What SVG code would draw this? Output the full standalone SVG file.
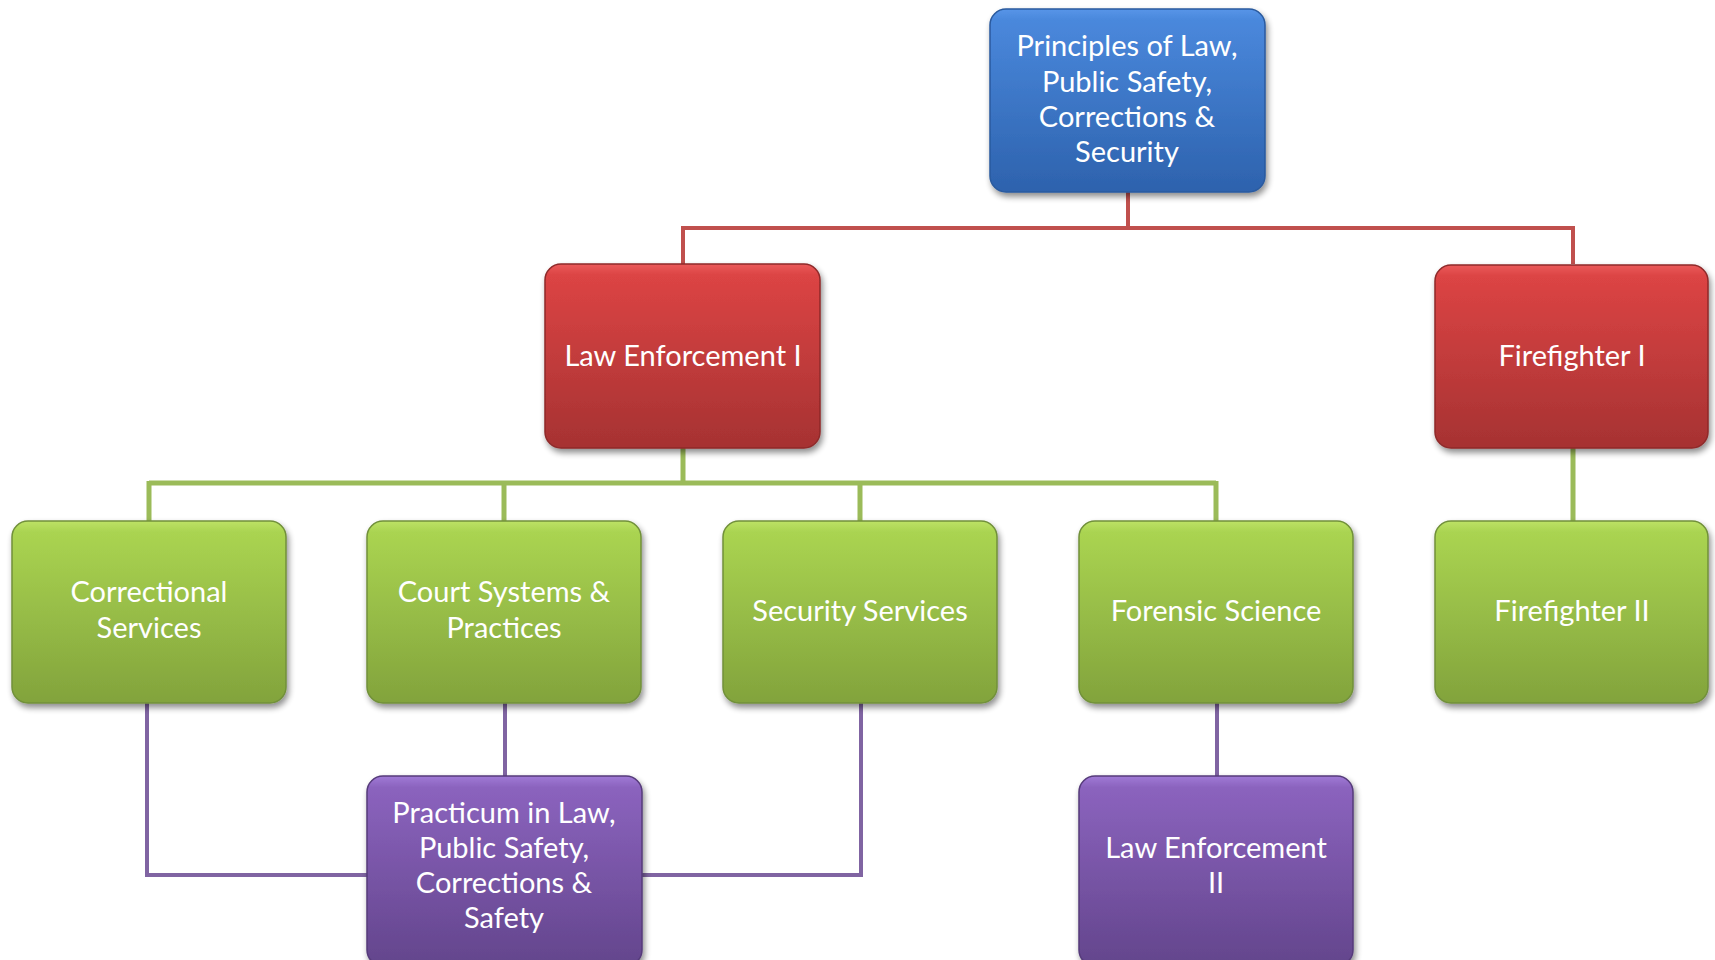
<svg xmlns="http://www.w3.org/2000/svg" width="1715" height="960" viewBox="0 0 1715 960">
<defs>
<linearGradient id="gBlue" x1="0" y1="0" x2="0" y2="1">
<stop offset="0" stop-color="#5795e8"/><stop offset="0.06" stop-color="#4a88dc"/><stop offset="1" stop-color="#2d62ad"/>
</linearGradient>
<linearGradient id="gRed" x1="0" y1="0" x2="0" y2="1">
<stop offset="0" stop-color="#ea5a5a"/><stop offset="0.06" stop-color="#dc4444"/><stop offset="1" stop-color="#a63232"/>
</linearGradient>
<linearGradient id="gGreen" x1="0" y1="0" x2="0" y2="1">
<stop offset="0" stop-color="#bde266"/><stop offset="0.06" stop-color="#aad451"/><stop offset="1" stop-color="#82a33c"/>
</linearGradient>
<linearGradient id="gPurple" x1="0" y1="0" x2="0" y2="1">
<stop offset="0" stop-color="#a07ad6"/><stop offset="0.06" stop-color="#8b63be"/><stop offset="1" stop-color="#63458c"/>
</linearGradient>
<filter id="sh" x="-10%" y="-10%" width="125%" height="125%">
<feGaussianBlur in="SourceAlpha" stdDeviation="3"/>
<feOffset dx="2" dy="4" result="b"/>
<feComponentTransfer><feFuncA type="linear" slope="0.45"/></feComponentTransfer>
<feMerge><feMergeNode/><feMergeNode in="SourceGraphic"/></feMerge>
</filter>
</defs>
<style>
.box{filter:url(#sh);stroke-width:1.5}
.blue{fill:url(#gBlue);stroke:#2a5a9e}
.red{fill:url(#gRed);stroke:#8e2a2a}
.green{fill:url(#gGreen);stroke:#71903a}
.purple{fill:url(#gPurple);stroke:#553b7a}
.t{font-family:Lato,"Open Sans",sans-serif;font-size:29px;fill:#ffffff;text-anchor:middle}
.cr{stroke:#c0504d;stroke-width:4;fill:none}
.cg{stroke:#9bbb59;stroke-width:5;fill:none}
.cp{stroke:#8064a2;stroke-width:4;fill:none}
</style>
<g id="connectors">
<path class="cr" d="M1128 192V228M683 228H1573M683 226V264M1573 226V264"/>
<path class="cg" d="M683 448V483M149 483H1216M149 481V521M504 481V521M860 481V521M1216 481V521M1573 448V521"/>
<path class="cp" d="M147 703V875H367M505 703V776M642 875H861V697M1217 703V776"/>
</g>
<g id="n-principles"><rect class="box blue" x="990" y="9" width="275" height="183" rx="16"/>
<text class="t" x="1127" y="56">Principles of Law,</text><text class="t" x="1127" y="92">Public Safety,</text><text class="t" x="1127" y="127">Corrections &amp;</text><text class="t" x="1127" y="162">Security</text></g>
<g id="n-le1"><rect class="box red" x="545" y="264" width="275" height="184" rx="16"/>
<text class="t" x="683" y="366">Law Enforcement I</text></g>
<g id="n-ff1"><rect class="box red" x="1435" y="265" width="273" height="183" rx="16"/>
<text class="t" x="1572" y="366">Firefighter I</text></g>
<g id="n-correctional"><rect class="box green" x="12" y="521" width="274" height="182" rx="16"/>
<text class="t" x="149" y="602">Correctional</text><text class="t" x="149" y="638">Services</text></g>
<g id="n-court"><rect class="box green" x="367" y="521" width="274" height="182" rx="16"/>
<text class="t" x="504" y="602">Court Systems &amp;</text><text class="t" x="504" y="638">Practices</text></g>
<g id="n-security"><rect class="box green" x="723" y="521" width="274" height="182" rx="16"/>
<text class="t" x="860" y="621">Security Services</text></g>
<g id="n-forensic"><rect class="box green" x="1079" y="521" width="274" height="182" rx="16"/>
<text class="t" x="1216" y="621">Forensic Science</text></g>
<g id="n-ff2"><rect class="box green" x="1435" y="521" width="273" height="182" rx="16"/>
<text class="t" x="1572" y="621">Firefighter II</text></g>
<g id="n-practicum"><rect class="box purple" x="367" y="776" width="275" height="190" rx="16"/>
<text class="t" x="504" y="823">Practicum in Law,</text><text class="t" x="504" y="858">Public Safety,</text><text class="t" x="504" y="893">Corrections &amp;</text><text class="t" x="504" y="928">Safety</text></g>
<g id="n-le2"><rect class="box purple" x="1079" y="776" width="274" height="190" rx="16"/>
<text class="t" x="1216" y="858">Law Enforcement</text><text class="t" x="1216" y="893">II</text></g>
</svg>
